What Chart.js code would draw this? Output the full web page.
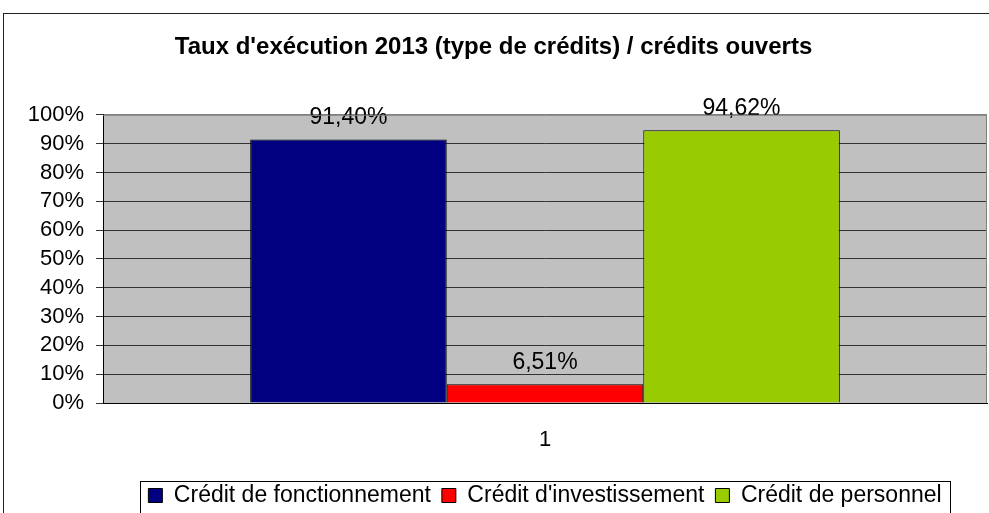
<!DOCTYPE html>
<html>
<head>
<meta charset="utf-8">
<script src="https://cdn.jsdelivr.net/npm/chart.js@4/dist/chart.umd.min.js"></script>
<style>
    html, body { margin: 0; padding: 0; background: #fff; }
    #wrap { width: 989px; height: 513px; }
</style>
</head>
<body>
<div id="wrap"><canvas id="chart" width="989" height="513"></canvas></div>
<script>
// Chart data
const categories = ['1'];
const seriesNames = ['Crédit de fonctionnement', "Crédit d'investissement", 'Crédit de personnel'];
const seriesValues = [91.40, 6.51, 94.62];
const seriesColors = ['#000080', '#FF0000', '#99CC00'];
const yTicks = [0, 10, 20, 30, 40, 50, 60, 70, 80, 90, 100];

const FONT = "'Liberation Sans', Arial, sans-serif";

// grey plot area + outer frame
const framePlugin = {
    id: 'frame',
    afterLayout(chart) {
        // centre the legend under the plot area, not the whole canvas
        const lg = chart.legend;
        const a = chart.chartArea;
        const shift = (a.left + a.right) / 2 - (lg.left + lg.right) / 2;
        lg.left += shift;
        lg.right += shift;
    },
    beforeDraw(chart) {
        const { ctx, chartArea: a } = chart;
        ctx.save();
        ctx.fillStyle = '#fff';
        ctx.fillRect(0, 0, chart.width, chart.height);
        ctx.fillStyle = '#C0C0C0';
        ctx.fillRect(a.left, a.top, a.right - a.left, a.bottom - a.top);
        ctx.restore();
    },
    afterDraw(chart) {
        const { ctx, chartArea: a } = chart;
        ctx.save();
        ctx.strokeStyle = '#808080';
        ctx.lineWidth = 1;
        ctx.beginPath();
        ctx.moveTo(a.left, a.top + 0.5);
        ctx.lineTo(a.right - 0.5, a.top + 0.5);
        ctx.lineTo(a.right - 0.5, a.bottom);
        ctx.stroke();

        // legend border
        const boxes = chart.legend.legendHitBoxes;
        if (boxes && boxes.length) {
            const left = Math.min(...boxes.map(b => b.left));
            const right = Math.max(...boxes.map(b => b.left + b.width));
            const top = Math.min(...boxes.map(b => b.top));
            ctx.strokeStyle = '#000';
            ctx.strokeRect(Math.round(left - 8) + 0.5, Math.round(top - 3) + 0.5, Math.round(right - left + 17), 200);
        }

        // outer chart border
        ctx.strokeStyle = '#222';
        ctx.strokeRect(3.5, 13.5, 1000, 600);
        ctx.restore();
    }
};

// value labels above bars
const valueLabels = {
    id: 'valueLabels',
    afterDatasetsDraw(chart) {
        const { ctx } = chart;
        ctx.save();
        ctx.font = '23px ' + FONT;
        ctx.fillStyle = '#000';
        ctx.textAlign = 'center';
        ctx.textBaseline = 'middle';
        chart.data.datasets.forEach((ds, i) => {
            const meta = chart.getDatasetMeta(i);
            meta.data.forEach((bar, j) => {
                const txt = ds.data[j].toFixed(2).replace('.', ',') + '%';
                ctx.fillText(txt, bar.x, bar.y - 22);
            });
        });
        ctx.restore();
    }
};

const datasets = seriesNames.map((name, i) => ({
    label: name,
    data: [seriesValues[i]],
    backgroundColor: seriesColors[i],
    borderColor: '#000',
    borderWidth: 1,
    categoryPercentage: 0.667,
    barPercentage: 1
}));

new Chart(document.getElementById('chart'), {
    type: 'bar',
    data: { labels: categories, datasets: datasets },
    options: {
        responsive: false,
        animation: false,
        layout: { padding: { left: 0, right: 2, top: 0, bottom: -4 } },
        plugins: {
            title: {
                display: true,
                text: "Taux d'exécution 2013 (type de crédits) / crédits ouverts",
                color: '#000',
                font: { family: FONT, size: 24, weight: 'bold' },
                padding: { top: 33, bottom: 53 }
            },
            legend: {
                position: 'bottom',
                labels: {
                    color: '#000',
                    font: { family: FONT, size: 23 },
                    boxWidth: 14,
                    boxHeight: 14,
                    padding: 11
                }
            },
            tooltip: { enabled: false }
        },
        scales: {
            x: {
                grid: { display: false, drawTicks: false },
                border: { display: true, color: '#000', width: 1 },
                ticks: { color: '#000', font: { family: FONT, size: 22 }, padding: 24 },
                afterFit(scale) { scale.height = 70; }
            },
            y: {
                min: 0,
                max: 100,
                afterBuildTicks(scale) { scale.ticks = yTicks.map(v => ({ value: v })); },
                grid: {
                    color: ctx => ctx.tick && ctx.tick.value === 100 ? '#808080' : (ctx.tick && ctx.tick.value === 0 ? '#000' : '#333'),
                    tickColor: '#333',
                    tickLength: 7,
                    lineWidth: 1
                },
                border: { display: true, color: '#000', width: 1 },
                ticks: {
                    color: '#000',
                    font: { family: FONT, size: 22 },
                    padding: 12,
                    autoSkip: false,
                    callback: v => v + '%'
                },
                afterFit(scale) { scale.width = 103; }
            }
        }
    },
    plugins: [framePlugin, valueLabels]
});
</script>
</body>
</html>
